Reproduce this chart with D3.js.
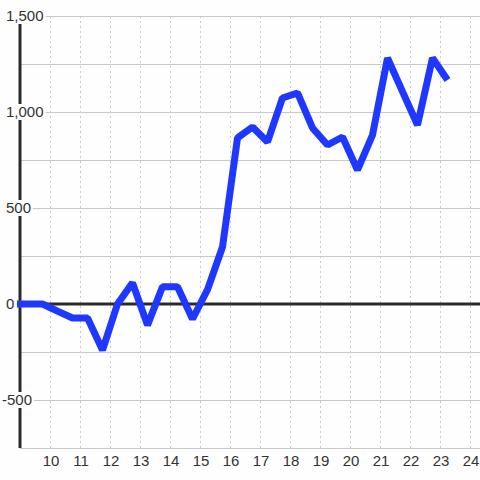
<!DOCTYPE html>
<html>
<head>
    <meta charset="utf-8">
    <script src="https://cdn.jsdelivr.net/npm/d3@7"></script>
    <style>
        body { margin: 0; background: #fdfefd; }
        text { font-family: "Liberation Sans", Arial, sans-serif; }
    </style>
</head>
<body>
    <div id="chart"></div>
    <script>
        // data (half-unit steps)
        var xValues = [8.9, 9.75, 10.25, 10.75, 11.25, 11.75, 12.25, 12.75, 13.25, 13.75,
                       14.25, 14.75, 15.25, 15.75, 16.25, 16.75, 17.25, 17.75, 18.25, 18.75,
                       19.25, 19.75, 20.25, 20.75, 21.25, 21.75, 22.25, 22.75, 23.25];
        var yValues = [0, 0, -37, -73, -73, -240, 0, 110, -110, 90,
                       90, -78, 75, 297, 865, 922, 844, 1073, 1099, 917,
                       828, 870, 698, 880, 1281, 1106, 932, 1281, 1167];
        var xTicks = [10, 11, 12, 13, 14, 15, 16, 17, 18, 19, 20, 21, 22, 23, 24];
        var yGrid = [-750, -500, -250, 0, 250, 500, 750, 1000, 1250, 1500];
        var yLabels = [-500, 0, 500, 1000, 1500];

        var width = 480, height = 480;
        var margin = {top: 16, right: 480, bottom: 448, left: 20};

        var x = d3.scaleLinear().domain([9, 24 + 1 / 3]).range([margin.left, margin.right]);
        var y = d3.scaleLinear().domain([-750, 1500]).range([margin.bottom, margin.top]);

        var svg = d3.select("#chart").append("svg")
            .attr("width", width)
            .attr("height", height);

        svg.append("rect")
            .attr("width", width).attr("height", height)
            .attr("fill", "#fdfefd");

        // vertical dotted grid
        svg.append("g").selectAll("line")
            .data(xTicks)
            .join("line")
            .attr("x1", function(d) { return x(d) + 0.5; })
            .attr("x2", function(d) { return x(d) + 0.5; })
            .attr("y1", margin.top)
            .attr("y2", margin.bottom)
            .attr("stroke", "#cccccc")
            .attr("stroke-dasharray", "2,3");

        // horizontal grid
        svg.append("g").selectAll("line")
            .data(yGrid)
            .join("line")
            .attr("x1", margin.left)
            .attr("x2", margin.right)
            .attr("y1", function(d) { return y(d) + 0.5; })
            .attr("y2", function(d) { return y(d) + 0.5; })
            .attr("stroke", "#c8c8c8");

        // zero line
        svg.append("line")
            .attr("x1", margin.left).attr("x2", margin.right)
            .attr("y1", y(0)).attr("y2", y(0))
            .attr("stroke", "#2a2a2a")
            .attr("stroke-width", 3);

        // left axis line
        svg.append("line")
            .attr("x1", margin.left).attr("x2", margin.left)
            .attr("y1", margin.top).attr("y2", margin.bottom)
            .attr("stroke", "#2a2a2a")
            .attr("stroke-width", 3);

        var line = d3.line()
            .x(function(d, i) { return x(xValues[i]); })
            .y(function(d) { return y(d); });

        svg.append("path")
            .datum(yValues)
            .attr("fill", "none")
            .attr("stroke", "#1f38ff")
            .attr("stroke-width", 7)
            .attr("stroke-linejoin", "bevel")
            .attr("d", line);

        // y labels with background boxes (plain hyphen for minus)
        var fmt = d3.formatLocale({decimal: ".", thousands: ",", grouping: [3],
                                   currency: ["", ""], minus: "-"}).format(",");
        var yl = svg.append("g").selectAll("g")
            .data(yLabels)
            .join("g");
        yl.each(function(d) {
            var g = d3.select(this);
            var t = g.append("text")
                .attr("x", d < 0 ? 2 : 6)
                .attr("y", y(d))
                .attr("dy", "0.35em")
                .attr("text-anchor", "start")
                .attr("font-size", "15px")
                .attr("fill", "#333")
                .text(fmt(d));
            var b = t.node().getBBox();
            g.insert("rect", "text")
                .attr("x", b.x - 1)
                .attr("y", y(d) - 8)
                .attr("width", b.width + 3)
                .attr("height", 16)
                .attr("fill", "#fdfefd");
        });

        // x labels
        svg.append("g").selectAll("text")
            .data(xTicks)
            .join("text")
            .attr("x", function(d) { return x(d) + 1; })
            .attr("y", 466)
            .attr("text-anchor", "middle")
            .attr("font-size", "15px")
            .attr("fill", "#333")
            .text(function(d) { return d; });
    </script>
</body>
</html>
